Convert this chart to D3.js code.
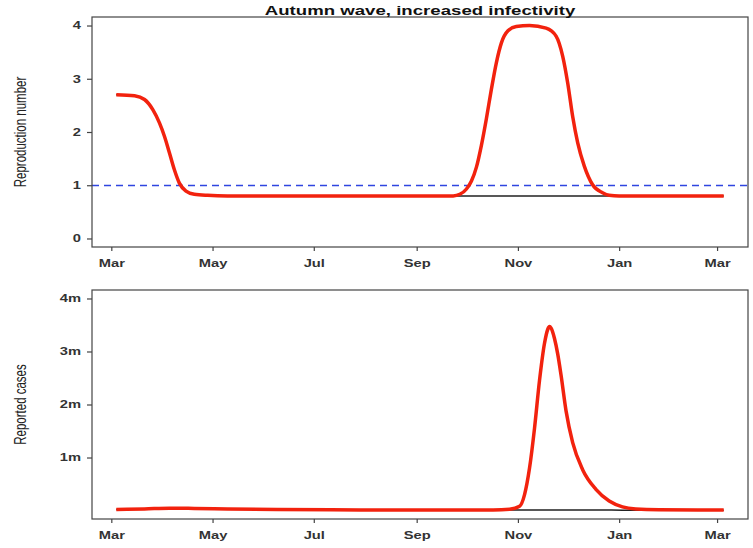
<!DOCTYPE html>
<html>
<head>
<meta charset="utf-8">
<script src="https://cdn.jsdelivr.net/npm/d3@7"></script>
<style>
  body { margin: 0; background: #fff; }
  svg { display: block; }
</style>
</head>
<body>
<div id="chart"></div>
<script>

// ---- data ----
const rDates = ["2020-03-04","2020-03-15","2020-03-21","2020-03-26","2020-03-30","2020-04-02",
    "2020-04-05","2020-04-08","2020-04-11","2020-04-15","2020-04-20","2020-04-28","2020-05-10",
    "2020-09-23","2020-09-27","2020-10-01","2020-10-04","2020-10-07","2020-10-10","2020-10-13",
    "2020-10-16","2020-10-19","2020-10-22","2020-10-26","2020-10-31","2020-11-08","2020-11-18",
    "2020-11-24","2020-11-28","2020-12-01","2020-12-04","2020-12-07","2020-12-11","2020-12-16",
    "2020-12-22","2020-12-26","2021-01-01","2021-03-05"];
const rWave = [2.70,2.68,2.61,2.42,2.17,1.92,1.61,1.29,1.04,0.89,0.83,0.81,0.80,
    0.80,0.83,0.93,1.08,1.34,1.75,2.25,2.80,3.30,3.67,3.90,3.98,4.00,3.95,
    3.80,3.42,2.92,2.29,1.80,1.36,1.01,0.86,0.81,0.80,0.80];
const rBase = [2.70,2.68,2.61,2.42,2.17,1.92,1.61,1.29,1.04,0.89,0.83,0.81,0.80,
    0.80,0.80,0.80,0.80,0.80,0.80,0.80,0.80,0.80,0.80,0.80,0.80,0.80,0.80,
    0.80,0.80,0.80,0.80,0.80,0.80,0.80,0.80,0.80,0.80,0.80];

const caseDates = ["2020-03-04","2020-03-21","2020-04-05","2020-04-20","2020-05-10","2020-06-09",
    "2020-07-29","2020-09-17","2020-10-17","2020-10-27","2020-11-02","2020-11-05","2020-11-08",
    "2020-11-11","2020-11-14","2020-11-17","2020-11-19","2020-11-20","2020-11-21","2020-11-23",
    "2020-11-25","2020-11-27","2020-11-30","2020-12-04","2020-12-10","2020-12-18","2020-12-26",
    "2021-01-03","2021-01-11","2021-01-25","2021-03-05"];
const casesWave = [20000,30000,45000,40000,30000,20000,12000,10000,12000,25000,80000,300000,800000,
    1550000,2450000,3150000,3420000,3470000,3440000,3250000,2950000,2550000,1880000,1280000,
    770000,400000,180000,70000,30000,15000,10000];
const casesBase = [20000,30000,45000,40000,30000,20000,12000,10000,10000,10000,10000,9000,9000,
    9000,9000,9000,9000,9000,9000,9000,8000,8000,8000,8000,8000,8000,8000,7000,7000,6000,6000];

const monthTicks = ["2020-03-01","2020-05-01","2020-07-01","2020-09-01","2020-11-01","2021-01-01","2021-03-01"];
const rTicks = [0, 1, 2, 3, 4];
const caseTicks = [1000000, 2000000, 3000000, 4000000];

const title = "Autumn wave, increased infectivity";

// ---- layout ----
const width = 753, height = 548;
const plotLeft = 92, plotRight = 748;
const top1 = 17, bottom1 = 247;
const top2 = 290, bottom2 = 519;
const stretch = 1.4;   // the picture is wider than it is tall

const parse = d3.timeParse("%Y-%m-%d");

const svg = d3.select("#chart").append("svg")
    .attr("width", width)
    .attr("height", height);

// R style 4% padding on the x range
const ext = d3.extent(rDates.map(parse));
const pad = (ext[1] - ext[0]) * 0.04;
const xScale = d3.scaleTime()
    .domain([new Date(+ext[0] - pad), new Date(+ext[1] + pad)])
    .range([plotLeft, plotRight]);

const yR = d3.scaleLinear().domain([-0.16, 4.16]).range([bottom1, top1]);
const yC = d3.scaleLinear().domain([-160000, 4160000]).range([bottom2, top2]);

function panel(y, top, bottom, yTicks, yFormat, yLabel, series, refLine) {
    const g = svg.append("g");

    // axes
    const xAxis = d3.axisBottom(xScale)
        .tickValues(monthTicks.map(parse))
        .tickFormat(d3.timeFormat("%b"))
        .tickSize(4)
        .tickPadding(9);
    const yAxis = d3.axisLeft(y)
        .tickValues(yTicks)
        .tickFormat(yFormat)
        .tickSize(5)
        .tickPadding(6);

    const gx = g.append("g")
        .attr("transform", `translate(0,${bottom})`)
        .call(xAxis);
    const gy = g.append("g")
        .attr("transform", `translate(${plotLeft},0)`)
        .call(yAxis);

    [gx, gy].forEach(ax => {
        ax.select(".domain").remove();
        ax.selectAll("line").attr("stroke", "#444").attr("stroke-width", 1.2);
        ax.selectAll("text")
            .attr("fill", "#333")
            .style("font-family", "'Liberation Sans', Arial, sans-serif")
            .style("font-weight", "bold")
            .style("font-size", "10.5px");
    });
    gx.selectAll("text").attr("transform", `scale(${stretch},1)`);
    gy.selectAll("text")
        .attr("x", -11 / stretch)
        .attr("transform", `scale(${stretch},1)`);

    // dashed reference line sits under the curves
    if (refLine != null) {
        const yy = Math.round(y(refLine)) + 0.5;
        g.append("line")
            .attr("x1", plotLeft)
            .attr("x2", plotRight)
            .attr("y1", yy)
            .attr("y2", yy)
            .attr("stroke", "#2f45e0")
            .attr("stroke-width", 1.3)
            .attr("stroke-dasharray", "7,5");
    }

    // data lines: baseline black underneath, scenario red on top
    series.forEach(s => {
        const line = d3.line()
            .x(d => xScale(d[0]))
            .y(d => y(d[1]))
            .curve(d3.curveMonotoneX);
        g.append("path")
            .attr("fill", "none")
            .attr("stroke", s.color)
            .attr("stroke-width", s.width)
            .attr("stroke-linejoin", "round")
            .attr("d", line(s.data));
    });

    // box
    g.append("rect")
        .attr("x", plotLeft)
        .attr("y", top)
        .attr("width", plotRight - plotLeft)
        .attr("height", bottom - top)
        .attr("fill", "none")
        .attr("stroke", "#444")
        .attr("stroke-width", 1.2);

    // y label
    g.append("text")
        .attr("transform", `translate(26,${(top + bottom) / 2}) scale(${stretch},1) rotate(-90)`)
        .attr("text-anchor", "middle")
        .style("font-family", "'Liberation Sans', Arial, sans-serif")
        .style("font-size", "11.5px")
        .attr("fill", "#222")
        .text(yLabel);

    return g;
}

panel(yR, top1, bottom1, rTicks, d3.format("d"), "Reproduction number", [
    { data: rDates.map((d, i) => [parse(d), rBase[i]]), color: "#222", width: 1.5 },
    { data: rDates.map((d, i) => [parse(d), rWave[i]]), color: "#f2220e", width: 3.5 }
], 1);

panel(yC, top2, bottom2, caseTicks, d => d / 1e6 + "m", "Reported cases", [
    { data: caseDates.map((d, i) => [parse(d), casesBase[i]]), color: "#222", width: 1.5 },
    { data: caseDates.map((d, i) => [parse(d), casesWave[i]]), color: "#f2220e", width: 3.5 }
], null);

// title
svg.append("text")
    .attr("transform", `translate(${(plotLeft + plotRight) / 2},15) scale(1.49,1)`)
    .attr("text-anchor", "middle")
    .style("font-family", "'Liberation Sans', Arial, sans-serif")
    .style("font-weight", "bold")
    .style("font-size", "12.5px")
    .attr("fill", "#111")
    .text(title);

</script>
</body>
</html>
